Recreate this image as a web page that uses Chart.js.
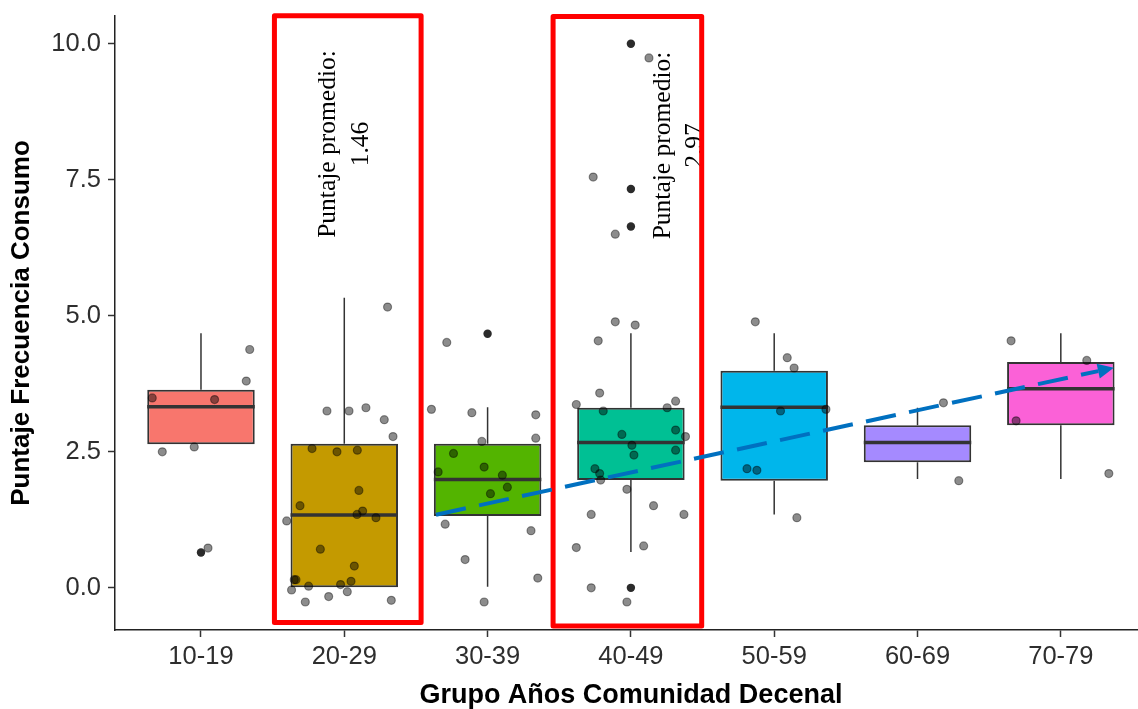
<!DOCTYPE html>
<html>
<head>
<meta charset="utf-8">
<script src="https://cdn.jsdelivr.net/npm/chart.js@4.4.1/dist/chart.umd.min.js"></script>
<style>
  html, body { margin: 0; padding: 0; background: #fff; width: 1138px; height: 709px; overflow: hidden; }
  #wrap { position: absolute; left: 0; top: 0; width: 1152px; height: 709px; }
  canvas { display: block; }
</style>
</head>
<body>
<div id="wrap"><canvas id="chart" width="1152" height="709"></canvas></div>
<script>
// ---- data ----
const categories = ['10-19', '20-29', '30-39', '40-49', '50-59', '60-69', '70-79'];
const boxColors  = ['#F8766D', '#C49A00', '#53B400', '#00C094', '#00B6EB', '#A58AFF', '#FB61D7'];

const q1          = [2.64, 0.00, 1.32, 1.98, 1.97, 2.31, 2.99];
const median      = [3.33, 1.34, 1.99, 2.67, 3.32, 2.67, 3.66];
const q3          = [3.64, 2.65, 2.65, 3.31, 3.99, 2.99, 4.15];
const whiskerLow  = [2.64, 0.00, 0.02, 0.66, 1.35, 2.00, 2.00];
const whiskerHigh = [4.68, 5.33, 3.32, 4.68, 4.68, 3.31, 4.68];
const outliers    = [[0.65], [], [4.67], [10.0, 7.33, 6.64, 0.0], [], [], []];

// jittered observations: horizontal offset from the group centre, and score
const jitterOffset = [
  [-0.34, 0.095, 0.34, 0.316, -0.27, -0.047, 0.049],
  [0.302, -0.121, 0.033, 0.151, 0.279, 0.340, -0.225, -0.051, 0.091, 0.102, -0.309, 0.128, 0.089,
   0.221, -0.402, -0.167, 0.070, -0.337, -0.349, -0.249, -0.026, 0.047, -0.368, 0.021, -0.109, -0.272, 0.328],
  [-0.285, -0.392, -0.110, 0.336, 0.336, -0.040, -0.238, -0.345, -0.024, 0.103, 0.138, 0.020, -0.296,
   0.303, -0.157, 0.350, -0.024],
  [0.126, -0.263, -0.109, -0.109, 0.030, -0.228, -0.218, -0.381, -0.193, 0.253, 0.312, 0.312, 0.381,
   -0.063, 0.007, 0.021, 0.312, -0.251, -0.218, -0.211, -0.028, 0.158, -0.277, 0.370, -0.381, 0.089, -0.277, -0.028],
  [-0.132, 0.091, 0.139, 0.044, 0.361, -0.190, -0.121, 0.158],
  [0.181, 0.288],
  [-0.347, 0.181, -0.312, 0.335]
];
const jitterScore = [
  [3.49, 3.46, 4.38, 3.80, 2.50, 2.59, 0.73],
  [5.16, 3.25, 3.25, 3.31, 3.09, 2.78, 2.56, 2.50, 2.53, 1.79, 1.51, 1.41, 1.35,
   1.29, 1.23, 0.71, 0.40, 0.15, 0.15, 0.03, 0.06, 0.12, -0.04, -0.07, -0.16, -0.26, -0.23],
  [4.51, 3.28, 3.22, 3.18, 2.75, 2.69, 2.47, 2.13, 2.22, 2.07, 1.85, 1.73, 1.17,
   1.05, 0.52, 0.18, -0.26],
  [9.74, 7.55, 6.50, 4.89, 4.83, 4.54, 3.58, 3.37, 3.25, 3.31, 3.43, 2.90, 2.78,
   2.82, 2.62, 2.44, 2.53, 2.19, 2.10, 1.98, 1.81, 1.51, 1.35, 1.35, 0.74, 0.77, 0.00, -0.26],
  [4.89, 4.23, 4.04, 3.25, 3.28, 2.19, 2.16, 1.29],
  [3.40, 1.97],
  [4.54, 4.18, 3.07, 2.10]
];

const yTicks = [0, 2.5, 5, 7.5, 10];

// highlighted groups: frame edges and the mean-score notes
const frameLeft   = [1.5125, 3.457];
const frameRight  = [2.536, 4.494];
const frameBottom = [-0.637, -0.701];
const frameTop    = [10.513, 10.50];
const noteX       = [2.050, 4.385];
const noteY       = [8.157, 8.13];
const noteValue   = ['1.46', '2.97'];
const noteTitle   = 'Puntaje promedio:';

// trend arrow from the 30-39 box to the 70-79 box
const arrowFrom = [2.640, 1.344];
const arrowTo   = [7.370, 4.046];

// ---- layout constants ----
const X_MIN = 0.4, X_MAX = 7.6;
const Y_MIN = -0.775, Y_MAX = 10.51;
const BOX_WIDTH = 0.75;
const SANS = '"Liberation Sans", Arial, sans-serif';
const SERIF = '"Liberation Serif", "Times New Roman", serif';

// ---- derived datasets ----
const boxData = categories.map((c, i) => ({ x: i + 1, y: [q1[i], q3[i]] }));
const whiskerData = [];
categories.forEach((c, i) => {
  whiskerData.push({ x: i + 1, y: q3[i] }, { x: i + 1, y: whiskerHigh[i] }, { x: i + 1, y: null });
  whiskerData.push({ x: i + 1, y: q1[i] }, { x: i + 1, y: whiskerLow[i] }, { x: i + 1, y: null });
});
const medianData = [];
categories.forEach((c, i) => {
  medianData.push({ x: i + 1 - BOX_WIDTH / 2, y: median[i] },
                  { x: i + 1 + BOX_WIDTH / 2, y: median[i] },
                  { x: i + 1, y: null });
});
const outlierData = [];
outliers.forEach((list, i) => list.forEach(v => outlierData.push({ x: i + 1, y: v })));
const jitterData = [];
jitterScore.forEach((list, i) => list.forEach((v, k) => jitterData.push({ x: i + 1 + jitterOffset[i][k], y: v })));

// ---- overlay: frames, notes and arrow ----
const overlay = {
  id: 'overlay',
  afterDatasetsDraw(chart) {
    const { ctx, scales: { x, y } } = chart;
    ctx.save();

    // notes (rotated, two lines)
    ctx.fillStyle = '#000';
    ctx.font = '25.5px ' + SERIF;
    ctx.textAlign = 'center';
    ctx.textBaseline = 'alphabetic';
    const gap = 32.5;
    noteX.forEach((nx, k) => {
      ctx.save();
      ctx.translate(x.getPixelForValue(nx), y.getPixelForValue(noteY[k]));
      ctx.rotate(-Math.PI / 2);
      ctx.fillText(noteTitle, 0, -gap / 2);
      ctx.fillText(noteValue[k], 0, gap / 2);
      ctx.restore();
    });

    // red frames
    ctx.strokeStyle = '#FF0000';
    ctx.lineWidth = 5;
    ctx.lineJoin = 'round';
    frameLeft.forEach((fl, k) => {
      const l = x.getPixelForValue(fl), r = x.getPixelForValue(frameRight[k]);
      const t = y.getPixelForValue(frameTop[k]), b = y.getPixelForValue(frameBottom[k]);
      ctx.strokeRect(l, t, r - l, b - t);
    });

    // dashed arrow
    const x0 = x.getPixelForValue(arrowFrom[0]), y0 = y.getPixelForValue(arrowFrom[1]);
    const x1 = x.getPixelForValue(arrowTo[0]),   y1 = y.getPixelForValue(arrowTo[1]);
    const ang = Math.atan2(y1 - y0, x1 - x0);
    const headLen = 16, headHalf = 7.5;
    const bx = x1 - headLen * Math.cos(ang), by = y1 - headLen * Math.sin(ang);
    ctx.strokeStyle = '#0070C0';
    ctx.fillStyle = '#0070C0';
    ctx.lineWidth = 4;
    ctx.lineCap = 'butt';
    ctx.setLineDash([30.5, 13.5]);
    ctx.beginPath();
    ctx.moveTo(x0, y0);
    ctx.lineTo(bx, by);
    ctx.stroke();
    ctx.setLineDash([]);
    ctx.beginPath();
    ctx.moveTo(x1, y1);
    ctx.lineTo(bx + headHalf * Math.sin(ang), by - headHalf * Math.cos(ang));
    ctx.lineTo(bx - headHalf * Math.sin(ang), by + headHalf * Math.cos(ang));
    ctx.closePath();
    ctx.fill();

    ctx.restore();
  }
};

new Chart(document.getElementById('chart'), {
  type: 'bar',
  data: {
    datasets: [
      {
        type: 'line', data: whiskerData, order: 5,
        borderColor: '#333333', borderWidth: 1.5, pointRadius: 0, spanGaps: false, fill: false
      },
      {
        type: 'bar', data: boxData, order: 4,
        backgroundColor: boxColors, borderColor: '#333333', borderWidth: 2, borderSkipped: false,
        barPercentage: BOX_WIDTH, categoryPercentage: 1
      },
      {
        type: 'line', data: medianData, order: 3,
        borderColor: '#333333', borderWidth: 3.5, borderCapStyle: 'butt', pointRadius: 0, spanGaps: false, fill: false
      },
      {
        type: 'scatter', data: outlierData, order: 2,
        pointRadius: 4.2, pointBackgroundColor: '#2b2b2b', pointBorderWidth: 0
      },
      {
        type: 'scatter', data: jitterData, order: 1,
        pointRadius: 4, pointBackgroundColor: 'rgba(0,0,0,0.45)',
        pointBorderColor: 'rgba(0,0,0,0.4)', pointBorderWidth: 1.2
      }
    ]
  },
  options: {
    responsive: false,
    animation: false,
    devicePixelRatio: 1,
    events: [],
    layout: { padding: { left: 0, top: 16, right: 3, bottom: 0 } },
    plugins: { legend: { display: false }, tooltip: { enabled: false } },
    scales: {
      x: {
        type: 'linear', min: X_MIN, max: X_MAX, offset: false,
        afterBuildTicks: s => { s.ticks = categories.map((c, i) => ({ value: i + 1 })); },
        afterFit: s => { s.height = 79; s.paddingLeft = 0; s.paddingRight = 0; },
        ticks: {
          callback: v => categories[Math.round(v) - 1] ?? '',
          autoSkip: false, maxRotation: 0, minRotation: 0, padding: 5,
          font: { family: SANS, size: 25.5 }, color: '#2e2e2e'
        },
        grid: { offset: false, drawOnChartArea: false, drawTicks: true, tickLength: 7, tickColor: '#333333', tickWidth: 1.5 },
        border: { display: true, color: '#222222', width: 1.5 },
        title: {
          display: true, text: 'Grupo Años Comunidad Decenal', color: '#000',
          font: { family: SANS, size: 27, weight: 'bold', lineHeight: 1 }, padding: { top: 0, bottom: 0 }
        }
      },
      y: {
        min: Y_MIN, max: Y_MAX,
        afterBuildTicks: s => { s.ticks = yTicks.map(v => ({ value: v })); },
        afterFit: s => { s.width = 115; s.paddingTop = 0; s.paddingBottom = 0; },
        ticks: {
          callback: v => Number(v).toFixed(1), padding: 7,
          font: { family: SANS, size: 25.5 }, color: '#2e2e2e'
        },
        grid: { drawOnChartArea: false, drawTicks: true, tickLength: 7, tickColor: '#333333', tickWidth: 1.5 },
        border: { display: true, color: '#222222', width: 1.5 },
        title: {
          display: true, text: 'Puntaje Frecuencia Consumo', color: '#000',
          font: { family: SANS, size: 26, weight: 'bold', lineHeight: 1.2 }, padding: { top: 6, bottom: 0 }
        }
      }
    }
  },
  plugins: [overlay]
});
</script>
</body>
</html>
